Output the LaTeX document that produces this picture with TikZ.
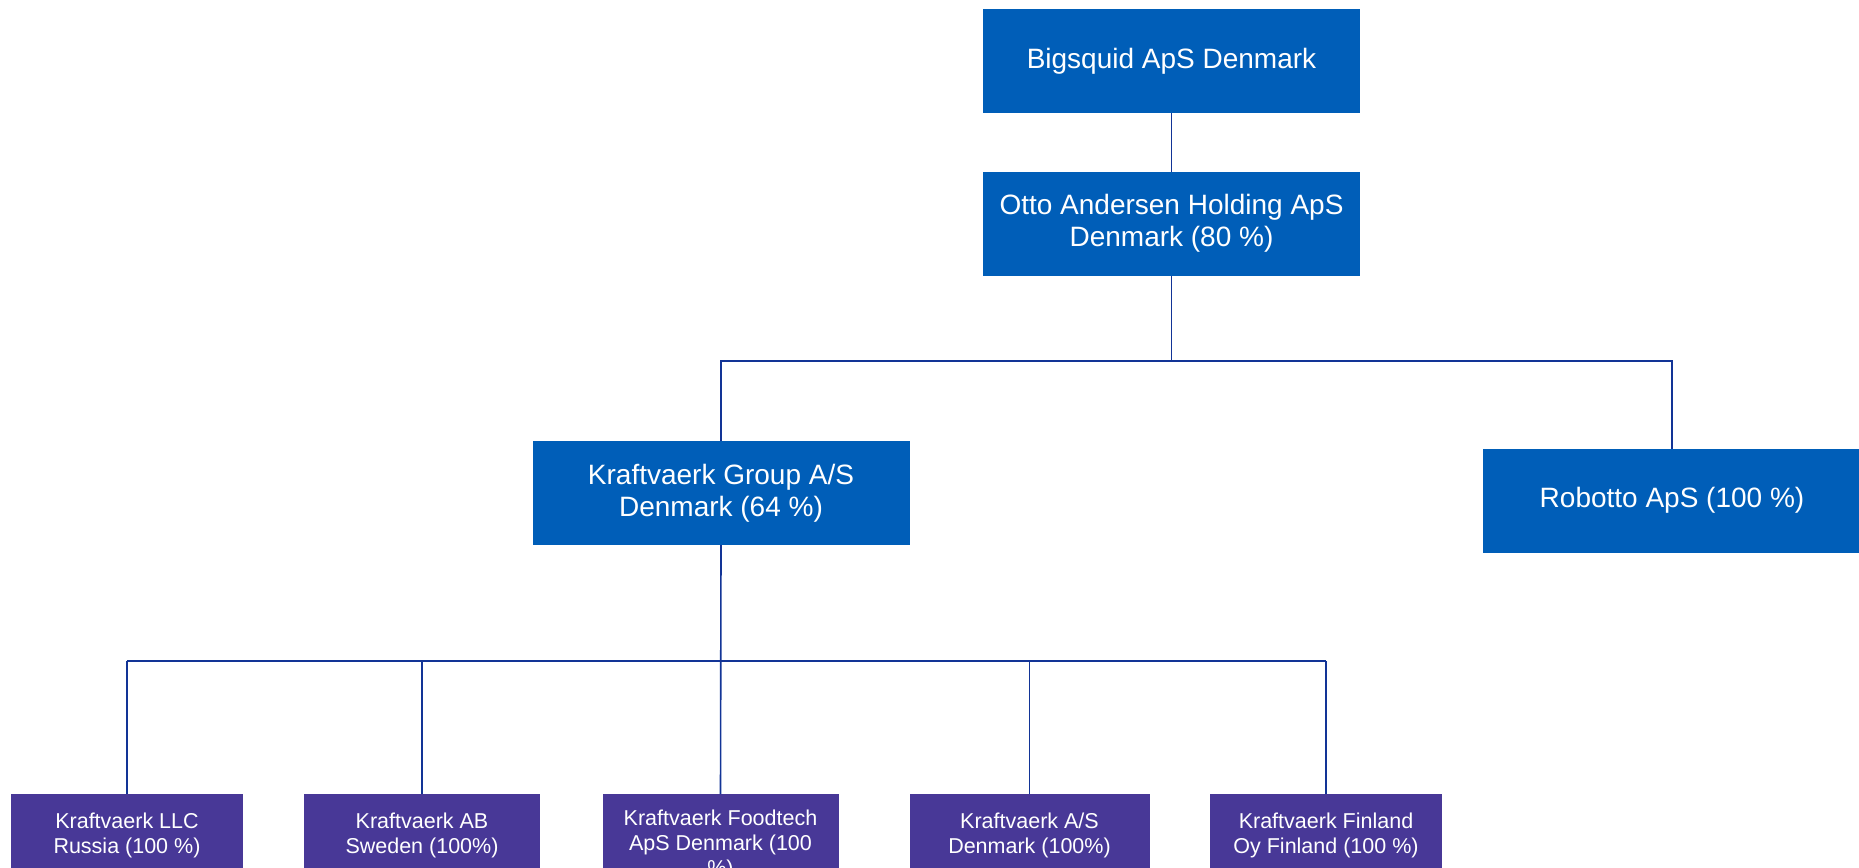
\documentclass[tikz,border=0pt]{standalone}
\usepackage{fontspec}
\setmainfont{Liberation Sans}
\definecolor{topblue}{RGB}{0,94,184}
\definecolor{subpurple}{RGB}{72,56,151}
\definecolor{linkblue}{RGB}{18,52,150}
\begin{document}
\begin{tikzpicture}[x=1pt,y=-1pt,
  topbox/.style={fill=topblue, text=white, minimum width=377pt, minimum height=104pt, inner sep=0pt, align=center, font=\fontsize{28}{32}\selectfont},
  subbox/.style={fill=subpurple, text=white, minimum width=236pt, minimum height=82pt, anchor=north, inner sep=0pt, align=center, font=\fontsize{21.5}{25}\selectfont},
  link/.style={draw=linkblue, line width=1.6pt}]
\useasboundingbox (0,0) rectangle (1859,867);
\node[topbox] (big) at (1171.5,61.2) {Bigsquid ApS Denmark};
\node[topbox] (otto) at (1171.5,223.7) {Otto Andersen Holding ApS\\Denmark (80 \%)};
\node[topbox] (grp) at (721,492.8) {Kraftvaerk Group A/S\\Denmark (64 \%)};
\node[topbox, minimum width=378pt] (rob) at (1672,500.7) {Robotto ApS (100 \%)};
\node[subbox, minimum width=232pt] (llc) at (127,794) {Kraftvaerk LLC\\Russia (100 \%)};
\node[subbox] (ab) at (422,794) {Kraftvaerk AB\\Sweden (100\%)};
\node[subbox, minimum height=101pt] (food) at (720.5,794) {Kraftvaerk Foodtech\\ApS Denmark (100\\\%)};
\node[subbox, minimum width=240pt] (as) at (1029.5,794) {Kraftvaerk A/S\\Denmark (100\%)};
\node[subbox, minimum width=232pt] (fin) at (1326,794) {Kraftvaerk Finland\\Oy Finland (100 \%)};
\coordinate (bus1) at (1171.5,361);
\coordinate (bus2) at (720.5,661);
\draw[link] (big) -- (otto);
\draw[link] (otto.south) -- (bus1);
\draw[link] (grp.north) -- (grp.north |- bus1) -- (rob.north |- bus1) -- (rob.north);
\draw[link] (grp.south) -- (food.north);
\draw[link] (llc.north |- bus2) -- (fin.north |- bus2);
\foreach \n in {llc,ab,as,fin} \draw[link] (\n.north) -- (\n.north |- bus2);
\end{tikzpicture}
\end{document}
